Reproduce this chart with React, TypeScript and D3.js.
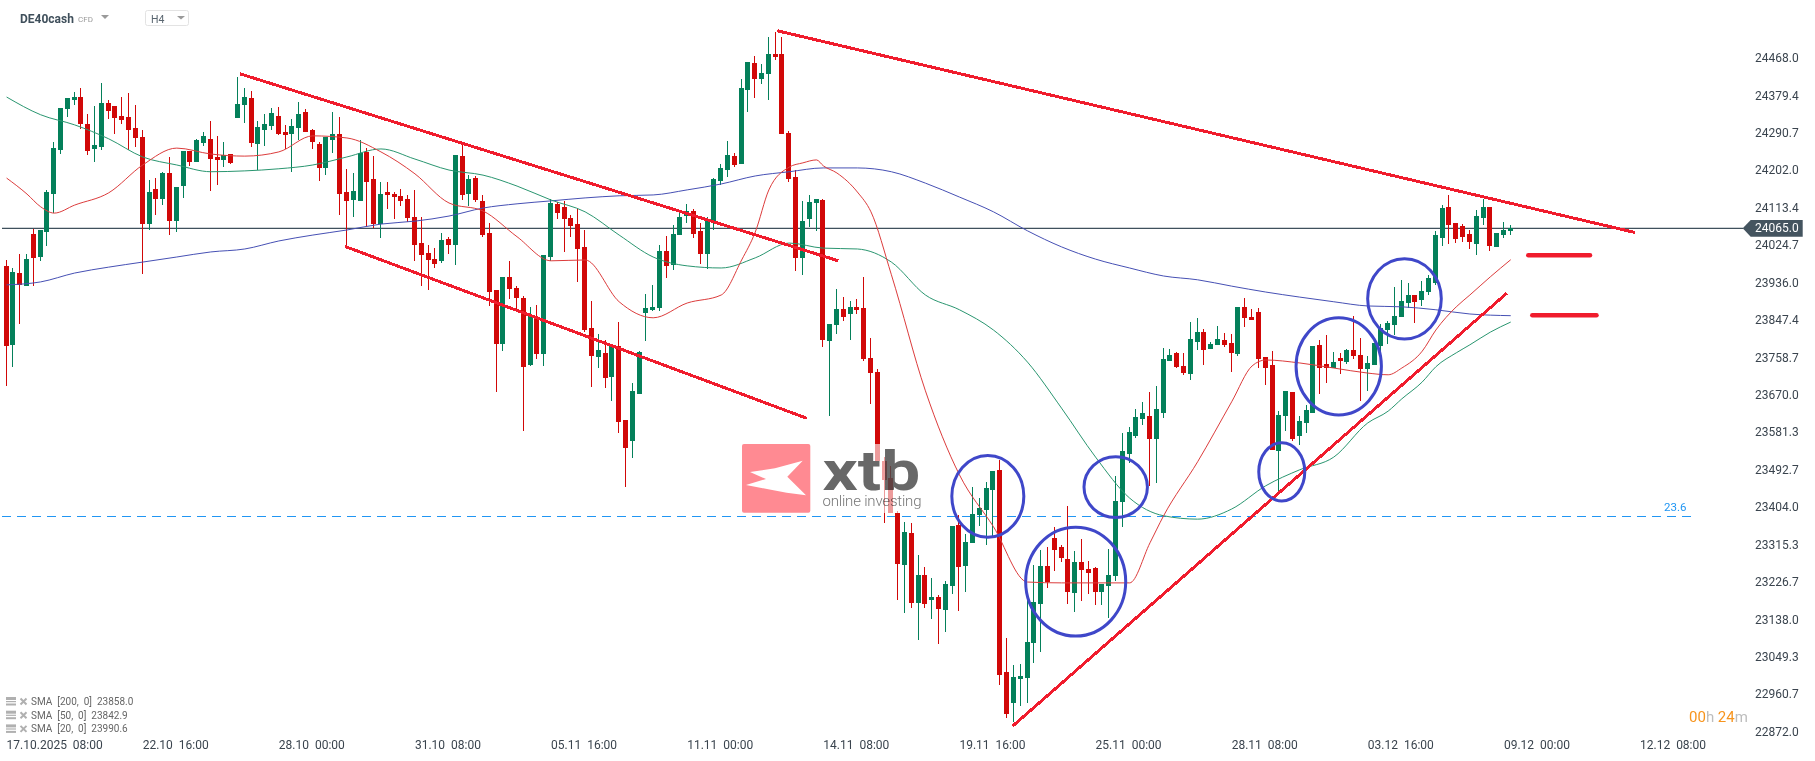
import React from "react";
import * as d3 from "d3";

const W = 1815;
const H = 761;

const opens = [
23976,23789,23959,23928,24052,23997,24056,24146,24251,24348,
24369,24376,24312,24253,24258,24362,24355,24331,24329,24303,
24281,24075,24158,24135,24196,24082,24165,24248,24222,24267,
24277,24234,24227,24241,24326,24357,24374,24265,24298,24307,
24331,24293,24289,24303,24341,24298,24265,24208,24274,24289,
24151,24132,24130,24246,24182,24075,24151,24146,24142,24135,
24092,24030,24007,23992,23988,24040,24026,24236,24146,24184,
24130,24054,23919,23791,23950,23924,23900,23741,23853,23767,
23997,24123,24116,24090,24075,24021,23829,23760,23770,23713,
23786,23611,23561,23673,23864,23872,23876,24011,23978,24049,
24094,24106,24059,24004,24080,24177,24203,24236,24217,24393,
24457,24419,24431,24478,24478,24291,24187,23995,24087,24125,
24132,23798,23836,23874,23862,23879,23876,23758,23725,23514,
23474,23391,23268,23343,23177,23244,23184,23192,23161,23218,
23362,23265,23320,23386,23398,23445,23493,23014,22941,22997,
23000,23083,23175,23265,23331,23310,23282,23201,23275,23258,
23260,23204,23218,23241,23417,23530,23573,23613,23621,23566,
23628,23751,23770,23739,23720,23796,23819,23779,23789,23801,
23793,23767,23879,23855,23867,23760,23741,23538,23621,23677,
23573,23604,23628,23789,23744,23734,23758,23748,23777,23765,
23732,23741,23786,23824,23836,23855,23888,23907,23895,23914,
23936,24042,24116,24078,24071,24052,24028,24090,24116,24021,
24049,24059];
const highs = [
23990,23971,24004,24004,24063,24061,24156,24270,24350,24374,
24388,24398,24336,24355,24409,24369,24355,24376,24386,24357,
24298,24180,24184,24199,24234,24163,24248,24248,24277,24293,
24319,24284,24270,24241,24424,24398,24390,24319,24336,24350,
24352,24310,24324,24364,24348,24300,24270,24281,24341,24329,
24206,24196,24274,24255,24236,24175,24175,24151,24158,24144,
24156,24092,24026,24018,24054,24045,24239,24270,24191,24189,
24144,24078,23919,23950,23988,23928,23905,23879,23883,24002,
24135,24127,24130,24097,24113,24061,23893,23815,23801,23786,
23843,23611,23699,23774,23910,23931,24026,24047,24073,24108,
24123,24111,24078,24092,24184,24217,24272,24244,24419,24459,
24473,24454,24518,24530,24518,24296,24203,24130,24144,24135,
24135,23839,23921,23902,23893,23898,23950,23805,23732,23523,
23502,23395,23369,23367,23291,23263,23237,23197,23230,23360,
23386,23341,23452,23426,23464,23490,23516,23095,23031,23033,
23192,23267,23303,23310,23358,23315,23407,23301,23329,23277,
23263,23223,23306,23478,23580,23594,23637,23654,23677,23692,
23782,23779,23772,23770,23843,23853,23827,23796,23834,23817,
23815,23879,23900,23874,23876,23760,23774,23632,23680,23677,
23621,23647,23786,23801,23812,23772,23770,23779,23857,23805,
23763,23793,23839,23846,23926,23943,23936,23907,23940,23955,
24059,24120,24144,24078,24075,24061,24108,24135,24116,24054,
24080,24073];
const lows = [
23692,23737,23838,23928,23928,23988,24023,24101,24241,24329,
24357,24300,24239,24222,24251,24324,24289,24312,24251,24258,
23957,24061,24097,24120,24049,24056,24137,24213,24222,24260,
24154,24168,24210,24217,24326,24315,24258,24203,24260,24298,
24286,24253,24199,24274,24293,24253,24177,24191,24244,24097,
24023,24092,24130,24068,24066,24042,24111,24087,24118,24080,
23988,23928,23919,23971,23983,24004,23978,24132,24118,24127,
24045,23881,23677,23774,23898,23874,23585,23739,23756,23739,
23988,24087,24009,24045,23938,23819,23689,23734,23687,23656,
23580,23452,23521,23673,23798,23869,23869,23947,23966,24049,
24078,24042,23981,23969,24061,24168,24187,24210,24217,24341,
24374,24407,24369,24464,24289,24175,23964,23955,24068,24059,
23784,23621,23815,23846,23801,23862,23751,23649,23514,23367,
23391,23185,23154,23166,23090,23166,23140,23080,23109,23199,
23159,23204,23320,23360,23315,23334,22983,22905,22896,22933,
22940,23035,23061,23213,23253,23275,23175,23156,23182,23199,
23173,23173,23142,23230,23358,23509,23568,23599,23455,23462,
23616,23751,23734,23718,23706,23777,23741,23779,23789,23784,
23725,23763,23831,23848,23734,23694,23540,23440,23585,23561,
23552,23580,23628,23673,23699,23734,23720,23744,23756,23656,
23680,23741,23770,23791,23812,23855,23876,23841,23881,23907,
23931,24023,24028,24030,24033,24016,24002,24073,24011,24021,
24042,24049];
const closes = [
23786,23962,23931,23992,23995,24061,24151,24255,24350,24374,
24376,24312,24248,24263,24362,24343,24326,24322,24298,24279,
24075,24151,24135,24196,24082,24163,24248,24222,24274,24284,
24229,24227,24239,24220,24360,24376,24267,24305,24312,24338,
24289,24286,24307,24336,24293,24270,24208,24281,24289,24146,
24130,24154,24244,24175,24075,24146,24144,24139,24130,24090,
24026,24002,23990,23981,24037,24026,24239,24144,24182,24132,
24049,23914,23791,23950,23921,23900,23737,23860,23767,24002,
24125,24101,24087,24071,24016,23824,23763,23777,23710,23786,
23606,23545,23680,23772,23876,23879,24011,23976,24052,24092,
24106,24052,24004,24087,24182,24208,24239,24215,24398,24459,
24419,24433,24478,24471,24289,24182,23995,24082,24127,24135,
23801,23838,23874,23855,23879,23872,23756,23722,23514,23469,
23391,23270,23346,23177,23244,23175,23192,23163,23223,23360,
23263,23322,23388,23403,23450,23490,23007,22915,23002,23004,
23085,23180,23265,23227,23303,23284,23204,23275,23256,23249,
23204,23223,23244,23419,23538,23583,23618,23628,23566,23637,
23755,23765,23737,23722,23803,23819,23777,23791,23803,23789,
23770,23879,23853,23848,23756,23734,23540,23623,23680,23566,
23609,23635,23786,23734,23734,23748,23751,23777,23763,23732,
23746,23793,23829,23841,23857,23893,23907,23890,23917,23947,
24049,24113,24073,24040,24045,24033,24094,24116,24023,24054,
24061,24065];

const sma20Index = [0,3,5,7,10,15,20,25,30,35,40,45,50,55,60,65,70,75,80,85,90,95,100,105,108,110,112,115,117,119,120,122,125,127,130,135,140,145,150,155,160,165,168,170,175,180,183,185,190,195,200,203,205,208,210,213,215,218,221];
const sma20 = [24184,24146,24116,24101,24120,24149,24215,24255,24241,24236,24246,24284,24279,24246,24194,24125,24106,24045,23988,23990,23891,23853,23888,23907,23990,24056,24156,24210,24220,24227,24213,24196,24151,24104,23955,23680,23481,23358,23227,23225,23225,23225,23320,23384,23512,23654,23739,23753,23746,23734,23722,23718,23734,23774,23824,23879,23907,23950,23990.6];
const sma50Index = [0,5,10,15,20,25,30,35,40,45,50,55,60,65,70,75,80,85,90,95,100,105,110,115,120,125,130,135,140,145,150,155,160,165,170,175,180,185,190,195,200,203,205,208,210,213,215,218,221];
const sma50 = [24376,24334,24310,24277,24234,24215,24199,24201,24206,24215,24234,24253,24229,24203,24191,24165,24132,24104,24049,23997,23976,23971,23995,24030,24018,24016,23985,23907,23872,23824,23748,23639,23523,23426,23384,23376,23400,23455,23493,23523,23604,23632,23661,23701,23737,23770,23789,23819,23842.9];
const sma200Index = [0,5,10,15,20,25,30,35,40,45,50,55,60,65,70,75,80,85,90,95,100,105,110,115,120,125,130,135,140,145,150,155,160,165,170,175,180,185,190,195,200,205,210,215,221];
const sma200 = [23931,23938,23959,23973,23985,23997,24009,24016,24035,24049,24061,24075,24082,24094,24113,24123,24130,24137,24142,24144,24156,24170,24189,24199,24208,24208,24199,24172,24139,24104,24059,24021,23992,23971,23952,23943,23928,23914,23902,23891,23881,23879,23872,23862,23858];

const priceTicks = ["24468.0","24379.4","24290.7","24202.0","24113.4","24024.7","23936.0","23847.4","23758.7","23670.0","23581.3","23492.7","23404.0","23315.3","23226.7","23138.0","23049.3","22960.7","22872.0"];
const dateLabels = ["17.10.2025  08:00","22.10  16:00","28.10  00:00","31.10  08:00","05.11  16:00","11.11  00:00","14.11  08:00","19.11  16:00","25.11  00:00","28.11  08:00","03.12  16:00","09.12  00:00","12.12  08:00"];
const legendRows = ["SMA  [200,  0]  23858.0","SMA  [50,  0]  23842.9","SMA  [20,  0]  23990.6"];

// trend lines: [start index, start price, end index, end price]
const thinTrends = [
  [34.29,24431,122.2,23988],
  [49.72,24022,117.56,23615],
  [113.24,24533,239.26,24055],
  [147.83,22886,220.41,23911],
];
const targetLines = [
  [223.58,24001,232.65,24001],
  [224.17,23859,233.6,23859],
];
// circles: [index, price, index radius, price radius]
const circles = [
  [144.17,23430,5.29,97],
  [157.08,23228,7.35,129],
  [162.96,23452,4.66,72],
  [187.36,23488,3.38,69],
  [195.73,23738,6.27,115],
  [205.39,23898,5.41,95],
];
const lastPrice = 24065;
const fibPrice = 23383;

const UP = "#04805a";
const DOWN = "#d10808";
const TREND = "#f01c2d";
const CIRCLE = "#3f47c9";
const TEXT = "#3a444e";
const FONT = "Roboto, sans-serif";

const xPix = d3.scaleLinear().domain([0, 1]).range([6.1, 12.906]);
const x = (i: number) => xPix(i) + 0.5;
const y = d3.scaleLinear().domain([24065, 22872]).range([228.3, 731.9]);

function smaPath(idx: number[], vals: number[]) {
  return d3.line<number>().x((_, k) => x(idx[k])).y((v) => y(v)).curve(d3.curveMonotoneX)(vals) as string;
}

export default function App() {
  const fibY = Math.floor(y(fibPrice)) + 0.5;
  return (
    <svg width={W} height={H} viewBox={`0 0 ${W} ${H}`} style={{ position: "absolute", left: 0, top: 0, display: "block", background: "#fff" }} fontFamily={FONT}>
      {/* price and fib levels under candles */}
      <line x1={2} x2={1743} y1={y(lastPrice)} y2={y(lastPrice)} stroke="#3f505c" strokeWidth={1.2} />
      <line x1={2} x2={1692} y1={fibY} y2={fibY} stroke="#2196f3" strokeWidth={1} strokeDasharray="9 6" shapeRendering="crispEdges" />
      <text x={1664} y={511} fontSize={11.5} fill="#2196f3">23.6</text>

      {/* candles */}
      <g shapeRendering="crispEdges">
        {opens.map((o, i) => {
          const c = closes[i];
          const col = c >= o ? UP : DOWN;
          const px = Math.floor(xPix(i));
          const top = y(Math.max(o, c));
          const bot = y(Math.min(o, c));
          return (
            <g key={i} fill={col}>
              <rect x={px} width={1} y={y(highs[i])} height={y(lows[i]) - y(highs[i])} />
              <rect x={px - 2} width={5} y={top} height={Math.max(1, bot - top)} />
            </g>
          );
        })}
      </g>

      {/* watermark */}
      <rect x={742} y={444} width={180} height={69} fill="#fff" opacity={0.6} />
      <rect x={742} y={444} width={68.3} height={68.7} rx={2} fill="#ff8a92" />
      <polygon points="750,472 775,468.3 802.7,460.7 787.3,476.7 806,495.3 786.7,492.7 768.3,489.3 746,485 766,479" fill="#fff" />
      <g style={{ mixBlendMode: "multiply" }}>
        <text transform="translate(822.5,489.5) scale(1.26,1)" fontSize={55} fontWeight={700} fill="#686868">xtb</text>
        <text x={822.5} y={506} fontSize={15} fontWeight={300} fill="#777" textLength={99} lengthAdjust="spacing">online investing</text>
      </g>

      {/* SMA lines */}
      <g fill="none" strokeWidth={1}>
        <path d={smaPath(sma200Index, sma200)} stroke="#4650b4" />
        <path d={smaPath(sma50Index, sma50)} stroke="#2a9670" />
        <path d={smaPath(sma20Index, sma20)} stroke="#dc3c3c" />
      </g>

      {/* drawings */}
      <g stroke={TREND} strokeWidth={3} shapeRendering="crispEdges">
        {thinTrends.map((t, k) => (
          <line key={k} x1={x(t[0])} y1={y(t[1])} x2={x(t[2])} y2={y(t[3])} />
        ))}
      </g>
      <g stroke={TREND} strokeWidth={4.5} strokeLinecap="round">
        {targetLines.map((t, k) => (
          <line key={k} x1={x(t[0])} y1={y(t[1])} x2={x(t[2])} y2={y(t[3])} />
        ))}
      </g>
      <g fill="none" stroke={CIRCLE} strokeWidth={3}>
        {circles.map((c, k) => (
          <ellipse key={k} cx={x(c[0])} cy={y(c[1])} rx={x(c[0] + c[2]) - x(c[0])} ry={y(c[1] - c[3]) - y(c[1])} />
        ))}
      </g>

      {/* price axis */}
      <g fontSize={12} fill={TEXT}>
        {priceTicks.map((t) => (
          <text key={t} x={1755} y={y(+t)} dominantBaseline="central">{t}</text>
        ))}
      </g>
      <polygon points={`1742.7,${y(lastPrice)} 1750.7,220 1802.7,220 1802.7,236.7 1750.7,236.7`} fill="#44545f" />
      <text x={1755} y={y(lastPrice)} dominantBaseline="central" fontSize={12} fill="#fff">{lastPrice.toFixed(1)}</text>

      {/* date axis */}
      <g fontSize={12} fill={TEXT}>
        {dateLabels.map((d, k) => (
          <text key={d} x={x(k * 20)} y={745} dominantBaseline="central" style={{ whiteSpace: "pre" }}>{d}</text>
        ))}
      </g>

      {/* countdown */}
      <text x={1689} y={717} dominantBaseline="central" fontSize={15}>
        <tspan fill="#f7941d">00</tspan><tspan fill="#bdbdbd">h </tspan><tspan fill="#f7941d">24</tspan><tspan fill="#bdbdbd">m</tspan>
      </text>

      {/* legend */}
      {legendRows.map((t, k) => {
        const cy = 701.5 + k * 13.7;
        return (
          <g key={t}>
            <rect x={6} y={cy - 4.5} width={10} height={3} fill="#b0b0b0" />
            <rect x={6} y={cy - 0.5} width={10} height={1.2} fill="#b0b0b0" />
            <rect x={6} y={cy + 2} width={10} height={2} fill="#b0b0b0" />
            <path d={`M20.5 ${cy - 3}L26.5 ${cy + 3}M26.5 ${cy - 3}L20.5 ${cy + 3}`} stroke="#b0b0b0" strokeWidth={2} />
            <text x={31} y={cy} dominantBaseline="central" fontSize={10} fill="#666" style={{ whiteSpace: "pre" }}>{t}</text>
          </g>
        );
      })}

      {/* header */}
      <text x={20} y={18.5} dominantBaseline="central" fontSize={12} fontWeight={700} fill="#3f4f5b">DE40cash</text>
      <text x={78} y={19} dominantBaseline="central" fontSize={8} fill="#9a9a9a">CFD</text>
      <polygon points="101,15 109,15 105,19" fill="#9a9a9a" />
      <rect x={145.5} y={10.5} width={43} height={15} rx={2} fill="#fff" stroke="#e3e3e3" />
      <text x={151} y={19.5} dominantBaseline="central" fontSize={10.5} fill="#5a6670">H4</text>
      <polygon points="177,16 185,16 181,19.5" fill="#9a9a9a" />
    </svg>
  );
}
